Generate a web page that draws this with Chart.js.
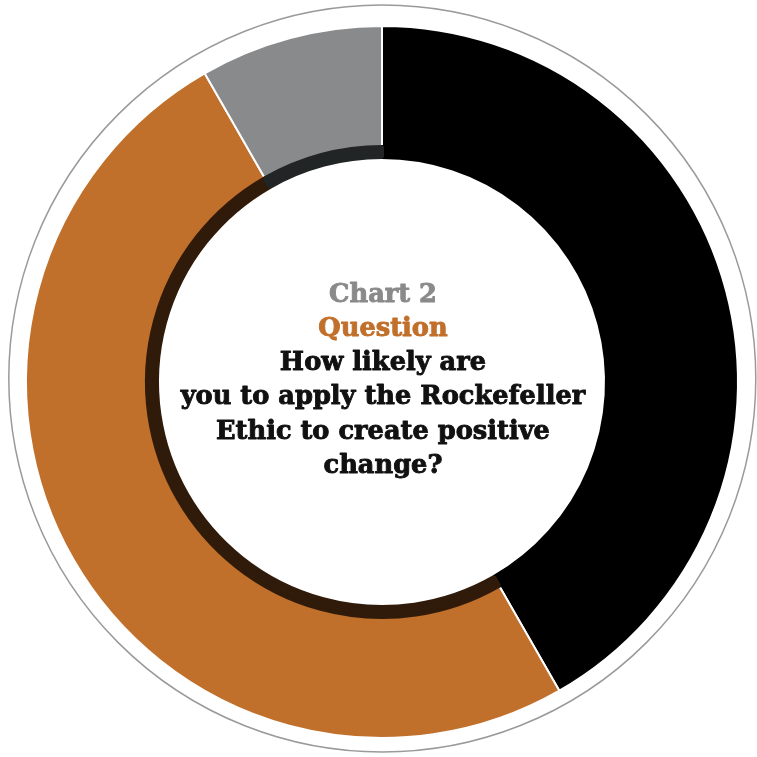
<!DOCTYPE html>
<html>
<head>
<meta charset="utf-8">
<script src="https://cdn.jsdelivr.net/npm/chart.js@4"></script>
<style>
  html, body { margin: 0; padding: 0; background: #ffffff; }
  #wrap { width: 757px; height: 757px; }
</style>
</head>
<body>
<div id="wrap"><canvas id="c" width="757" height="757"></canvas></div>
<script>
// Data
const categories = ['Very likely', 'Somewhat likely', 'Not likely'];
const values = [41.7, 50.0, 8.3];
const segmentColors = ['#000000', '#C1702B', '#898A8C'];
const innerRingColors = ['#000000', '#301B0A', '#222525'];
const titleLines = ['Chart 2', 'Question', 'How likely are', 'you to apply the Rockefeller', 'Ethic to create positive', 'change?'];
const titleColors = ['#8A8A8A', '#C1702B', '#111111', '#111111', '#111111', '#111111'];

const centerTextPlugin = {
  id: 'centerText',
  afterDraw(chart) {
    const arc = chart.getDatasetMeta(0).data[0];
    if (!arc) return;
    const ctx = chart.ctx;
    ctx.save();
    ctx.textAlign = 'center';
    ctx.textBaseline = 'alphabetic';
    ctx.font = 'bold 25.7px "DejaVu Serif", serif';
    ctx.lineWidth = 0.9;
    ctx.lineJoin = 'round';
    const x = arc.x + 1;
    let y = arc.y - 80.5;
    titleLines.forEach((line, i) => {
      ctx.fillStyle = titleColors[i];
      ctx.strokeStyle = titleColors[i];
      ctx.fillText(line, x, y);
      ctx.strokeText(line, x, y);
      y += 34.3;
    });
    ctx.restore();
  }
};

const ringPlugin = {
  id: 'outerRing',
  beforeDatasetsDraw(chart) {
    const arc = chart.getDatasetMeta(0).data[0];
    if (!arc) return;
    const ctx = chart.ctx;
    ctx.save();
    ctx.beginPath();
    ctx.arc(arc.x + 0.3, arc.y - 3.5, 373.5, 0, Math.PI * 2);
    ctx.strokeStyle = '#9A9A9A';
    ctx.lineWidth = 1.5;
    ctx.stroke();
    ctx.restore();
  }
};

new Chart(document.getElementById('c'), {
  type: 'doughnut',
  data: {
    labels: categories,
    datasets: [
      {
        data: values,
        backgroundColor: segmentColors,
        borderColor: '#FFFFFF',
        borderWidth: 2,
        hoverBorderWidth: 4,
        weight: 120,
        order: 1
      },
      {
        data: values,
        backgroundColor: innerRingColors,
        borderColor: innerRingColors,
        borderWidth: 4,
        hoverBorderWidth: 4,
        weight: 10,
        order: -1
      }
    ]
  },
  options: {
    responsive: false,
    animation: false,
    cutout: 225,
    layout: { padding: { left: 25, right: 18, top: 25, bottom: 18 } },
    plugins: {
      legend: { display: false },
      tooltip: { enabled: false },
      title: { display: false }
    },
    events: []
  },
  plugins: [ringPlugin, centerTextPlugin]
});
</script>
</body>
</html>
